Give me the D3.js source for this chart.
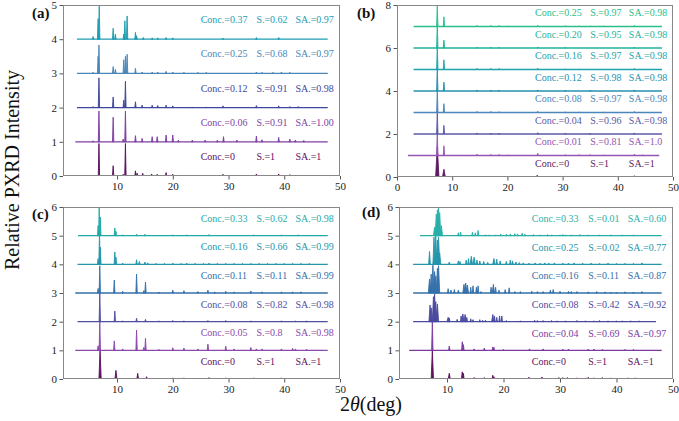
<!DOCTYPE html>
<html><head><meta charset="utf-8">
<script src="https://cdn.jsdelivr.net/npm/d3@7"></script>
<style>body{margin:0;background:#fff}svg{display:block;font-family:"Liberation Serif","Times New Roman",serif}</style>
</head><body>
<svg id="c" width="679" height="421"></svg>
<script>
// ---------------- DATA ----------------
// Panel (a)
const concA = ["0","0.06","0.12","0.25","0.37"];
const selA  = ["1","0.91","0.91","0.68","0.62"];
const saA   = ["1","1.00","0.98","0.97","0.97"];
const spanA = [[3,47.8],[2.5,47.8],[2.8,47.8],[2.8,47.8],[2.8,47.8]];
const peaksA = [
  [[5.7,0.03],[6.75,0.95],[9.3,0.3],[11.1,0.05],[11.5,0.95],[13.3,0.15],[13.6,0.08],[14.6,0.08],[16.2,0.06],[17.2,0.05],[18.8,0.1],[20.0,0.05],[22.5,0.03],[23.7,0.03],[25.7,0.03],[27.2,0.03],[29,0.05],[31.5,0.03],[35,0.06],[37,0.03],[39,0.06],[41,0.04],[42,0.03],[43,0.03]],
  [[5.7,0.03],[6.75,0.9],[9.3,0.72],[11.1,0.08],[11.5,0.9],[13.3,0.18],[14.5,0.1],[16.3,0.15],[17.2,0.15],[18.8,0.2],[20.0,0.2],[21,0.05],[23.5,0.05],[25.8,0.05],[28,0.05],[29.1,0.15],[31.5,0.05],[35,0.17],[36,0.06],[39,0.13],[41,0.08],[42,0.05],[43.5,0.04]],
  [[5.7,0.03],[6.75,0.87],[9.3,0.31],[11.2,0.22],[11.5,0.77],[13.3,0.17],[14.5,0.07],[16.3,0.07],[17.3,0.06],[18.8,0.07],[20,0.05],[23.5,0.02],[26,0.02],[29,0.05],[35,0.06],[39,0.05],[41,0.03],[42.5,0.03]],
  [[5.7,0.03],[6.6,0.5],[6.75,0.83],[9.3,0.2],[9.7,0.12],[11.2,0.4],[11.5,0.5],[11.8,0.56],[13.3,0.15],[14.5,0.04],[16.3,0.04],[17.3,0.04],[18.8,0.06],[20,0.04],[22,0.03],[24.5,0.03],[26,0.03],[35,0.04],[36,0.03],[38,0.03],[39.5,0.04],[41,0.03]],
  [[5.7,0.08],[6.6,0.6],[6.8,1.0],[9.3,0.32],[9.7,0.15],[11.2,0.15],[11.4,0.54],[11.8,0.68],[13.3,0.2],[13.5,0.1],[14.7,0.05],[16.3,0.04],[17.3,0.04],[18.8,0.05],[20,0.04],[29,0.03],[35,0.05],[39,0.05]]
];
const colorsA = ["#5c1060","#7e3fa3","#3d479b","#4a86b8","#1d9cb0"];

// Panel (b)
const concB = ["0","0.01","0.04","0.08","0.12","0.16","0.20","0.25"];
const selB  = ["1","0.81","0.96","0.97","0.98","0.97","0.95","0.97"];
const saB   = ["1","1.0","0.98","0.98","0.98","0.98","0.98","0.98"];
const spanB = [[4.3,47.5],[2.0,47.5],[3,48],[3,48],[3,48],[3,48],[3,48],[3,48]];
const peaksB = [
  [[7.3,1.4,0.3],[8.5,0.36,0.25],[14.5,0.04],[17,0.04],[18.5,0.04],[20,0.03],[25.4,0.08,0.2],[30.5,0.03],[33,0.03],[35,0.03],[37.5,0.03],[43,0.06,0.2],[45,0.03]],
  [[7.3,1.2],[8.5,0.45],[14.5,0.06],[17,0.05],[18.5,0.05],[20,0.03],[25.5,0.1],[30.5,0.04],[33,0.04],[35,0.04],[37.5,0.03],[43,0.06],[44.5,0.03]],
  [[7.3,1.1],[8.5,0.4],[14.5,0.05],[17,0.04],[18.5,0.04],[25.5,0.06],[30.5,0.03],[35,0.03],[43,0.05]],
  [[7.3,1.1],[8.5,0.41],[14.5,0.05],[17,0.05],[18.5,0.04],[25.5,0.06],[30.5,0.03],[33,0.03],[37.5,0.03],[43,0.05]],
  [[7.3,1.1],[8.5,0.41],[14.5,0.05],[17,0.04],[18.5,0.04],[25.5,0.05],[30.5,0.03],[35,0.03],[43,0.05]],
  [[7.3,1.1],[8.5,0.45],[14.5,0.05],[17,0.05],[18.5,0.05],[25.5,0.06],[30.5,0.03],[33,0.03],[43,0.05]],
  [[7.3,1.1],[8.5,0.37],[14.5,0.04],[17,0.04],[18.5,0.04],[25.5,0.05],[30.5,0.03],[43,0.04]],
  [[7.3,1.0],[8.5,0.45],[14.5,0.05],[17,0.05],[18.5,0.05],[20,0.03],[25.5,0.06],[30.5,0.04],[33,0.03],[35,0.03],[37.5,0.03],[43,0.05]]
];
const colorsB = ["#5c1a60","#9356b3","#5b5aa8","#4d86bb","#2690b0","#1ea5aa","#1fb39c","#28c08a"];

// Panel (c)
const concC = ["0","0.05","0.08","0.11","0.16","0.33"];
const selC  = ["1","0.8","0.82","0.11","0.66","0.62"];
const saC   = ["1","0.98","0.98","0.99","0.99","0.98"];
const spanC = [[3,47.8],[2.5,47.8],[2.9,47.8],[2.5,47.8],[2.9,47.8],[3,47.8]];
const peaksC = [
  [[6.95,1.0,0.2],[9.8,0.3,0.18],[13.7,0.2,0.15],[15.3,0.08],[17.5,0.03],[20,0.04],[22,0.04],[24,0.03],[26.5,0.05],[29.5,0.04],[34.5,0.04],[36,0.03],[39.5,0.04],[42,0.03]],
  [[6.6,0.16],[6.9,1.05],[9.5,0.33],[11,0.05],[13.5,0.71],[14.8,0.1],[15.1,0.42],[17.5,0.03],[20,0.09],[22,0.08],[24.5,0.05],[26.3,0.22],[29.5,0.15],[31,0.05],[34,0.1],[35,0.05],[36,0.05],[39.5,0.05],[41.5,0.07],[42,0.05],[44,0.04]],
  [[6.9,1.0],[9.6,0.37],[11,0.03],[13.5,0.12],[15.1,0.08],[17.5,0.03],[20,0.04],[22,0.03],[26.3,0.04],[29.5,0.04],[34,0.03],[39.5,0.03],[42,0.03],[44,0.03]],
  [[6.6,0.16],[6.9,0.95],[9.5,0.45],[11,0.06],[13.5,0.66],[14.8,0.08],[15.1,0.38],[17.5,0.03],[20,0.1],[22,0.08],[24.5,0.05],[26.3,0.1],[27.5,0.04],[29.5,0.06],[31,0.04],[34,0.07],[36,0.04],[39.5,0.04],[41.5,0.04],[43,0.04]],
  [[6.6,0.2],[6.85,1.07],[7.0,0.6],[9.6,0.43],[9.8,0.25],[11,0.04],[13.5,0.16],[14,0.1],[15,0.08],[15.5,0.05],[17,0.03],[18.5,0.03],[20,0.04],[21.5,0.03],[22.5,0.04],[24,0.03],[25.5,0.03],[26.5,0.04],[28,0.03],[29.5,0.03],[31,0.03],[32.5,0.03],[34,0.03],[35.5,0.03],[37,0.03],[38.5,0.03],[40,0.03],[41.5,0.03],[43,0.03],[44.5,0.03]],
  [[6.6,0.35],[6.8,1.0],[7.0,0.65],[9.6,0.27],[9.8,0.15],[11,0.03],[13.5,0.05],[15,0.05],[20,0.03],[22.5,0.03],[26.5,0.04],[34.5,0.03],[39.5,0.03],[42.5,0.03]]
];
const colorsC = ["#5e1060","#8a4aaa","#4f4fa0","#3470aa","#2596aa","#1faaa8"];

// Panel (d)
const concD = ["0","0.04","0.08","0.16","0.25","0.33"];
const selD  = ["1","0.69","0.42","0.11","0.02","0.01"];
const saD   = ["1","0.97","0.92","0.87","0.77","0.60"];
const spanD = [[4,48],[3.3,48],[4,47],[4,48],[4,48],[5.2,48]];
const peaksD = [
  [[7.4,1.0,0.2],[10.4,0.2,0.18],[12.7,0.25,0.15],[12.9,0.2],[14.8,0.05],[16.6,0.05],[18.1,0.13],[18.3,0.08],[24.5,0.06],[26.8,0.07],[29.8,0.05],[30.5,0.05],[31.3,0.05],[33,0.04],[35,0.06],[36,0.04],[37.5,0.05],[39,0.04],[42,0.04],[43.3,0.04],[45,0.03]],
  [[7.4,1.0],[10.4,0.15],[12.7,0.3],[12.9,0.2],[14.8,0.05],[16.6,0.08],[18.1,0.12],[18.3,0.1],[20,0.03],[24.6,0.05],[27,0.05],[30.5,0.04],[31.5,0.04],[35,0.04],[36,0.04],[37.5,0.03],[41.5,0.03],[43,0.03]],
  [[7.0,0.58,0.2],[7.2,0.48,0.2],[7.6,0.87,0.2],[7.8,0.96,0.2],[8.0,0.7,0.2],[8.3,0.62,0.2],[10.2,0.15,0.2],[10.4,0.13],[11.8,0.08],[12.5,0.2],[12.8,0.27,0.2],[13.2,0.25,0.2],[13.5,0.15],[14.2,0.1],[14.6,0.07],[15.8,0.07],[16.3,0.05],[16.8,0.05],[18.1,0.25,0.2],[18.4,0.2],[18.8,0.15],[19.3,0.2],[19.7,0.2],[20.5,0.04],[23,0.03],[25.5,0.05],[26,0.04],[27,0.04],[28.5,0.04],[29.5,0.03],[31,0.03],[33,0.04],[34.5,0.03],[36,0.03],[37,0.04],[38.5,0.03],[40,0.03],[41,0.03],[42.5,0.03],[44,0.03]],
  [[6.9,0.49,0.2],[7.2,0.66,0.2],[7.5,0.97,0.2],[7.8,0.75,0.2],[8.0,0.6,0.2],[8.3,0.86,0.2],[8.5,0.95,0.2],[10.2,0.15],[10.7,0.1],[11.3,0.12],[12.0,0.1],[13.0,0.3,0.2],[13.3,0.35,0.2],[13.6,0.28,0.2],[14.2,0.2],[14.6,0.25],[15.2,0.2],[15.5,0.25],[16.0,0.05],[17.8,0.2],[18.2,0.3,0.2],[18.6,0.2],[19.2,0.1],[20.3,0.12],[21,0.18],[22,0.05],[23,0.05],[25,0.06],[26,0.05],[27,0.05],[28.3,0.1],[28.8,0.12],[30,0.06],[31.5,0.06],[32,0.05],[33,0.05],[35,0.04],[36.5,0.05],[38,0.04],[39,0.03],[40,0.03],[41.5,0.04],[43,0.03],[44.5,0.05]],
  [[6.9,0.45,0.15],[7.7,0.95,0.2],[8.0,1.0,0.2],[8.3,0.85,0.2],[8.5,0.95,0.2],[8.7,0.4,0.2],[10.4,0.08],[12.0,0.12],[12.3,0.1],[13.4,0.15],[13.8,0.2],[14.3,0.28,0.2],[14.8,0.25,0.2],[15.3,0.15],[15.8,0.12],[16.5,0.1],[17.2,0.07],[18.3,0.2,0.2],[18.8,0.18],[19.4,0.12],[20.5,0.1],[21.2,0.15],[21.6,0.12],[22.2,0.08],[22.8,0.06],[23.5,0.05],[24.5,0.04],[25.6,0.05],[26.5,0.04],[27.3,0.05],[28,0.04],[29,0.05],[30.5,0.04],[31.5,0.04],[32.5,0.05],[34,0.04],[35.5,0.04],[37,0.03],[38.5,0.04],[40,0.03],[41.5,0.03],[43,0.03],[44.5,0.05]],
  [[7.8,0.3,0.2],[8.1,0.75,0.2],[8.3,0.9,0.2],[8.5,1.0,0.2],[8.7,0.8,0.2],[9.0,0.35,0.2],[12.0,0.1],[12.4,0.12],[14.5,0.12],[15,0.1],[15.5,0.18],[16.8,0.03],[17.5,0.03],[18.5,0.03],[19.5,0.06],[20.5,0.05],[21.2,0.06],[22,0.07],[22.5,0.06],[23.3,0.08],[23.8,0.05],[25.3,0.04],[26.5,0.03],[27.8,0.04],[28.5,0.03],[30,0.03],[30.5,0.04],[31,0.03],[32,0.03],[33.5,0.04],[35,0.03],[37,0.03],[39,0.03],[41,0.03],[43,0.03]]
];
const colorsD = ["#5e1060","#7a3aa0","#4a4aa0","#3470aa","#2596aa","#27b0a8"];

const xTicksA = [10,20,30,40,50], xTicksB = [0,10,20,30,40,50];
const yTicksA = [0,1,2,3,4,5], yTicksB = [0,2,4,6,8], yTicksC = [0,1,2,3,4,5,6];

// ---------------- LAYOUT ----------------
const FONT = "'Liberation Serif','Times New Roman',serif";
const svg = d3.select("#c");
const panels = [
  {id:"(a)", conc:concA, sel:selA, sa:saA, span:spanA, peaks:peaksA, colors:colorsA,
   L:63, R:340, T:5, B:176, xd:[0.3,50], yd:[0,5], xt:xTicksA, yt:yTicksA, lx:32, ly:18, tdy:0.57},
  {id:"(b)", conc:concB, sel:selB, sa:saB, span:spanB, peaks:peaksB, colors:colorsB,
   L:397, R:673, T:5, B:177, xd:[0,50], yd:[0,8], xt:xTicksB, yt:yTicksB, lx:357, ly:18, tdy:0.64},
  {id:"(c)", conc:concC, sel:selC, sa:saC, span:spanC, peaks:peaksC, colors:colorsC,
   L:63, R:340, T:207, B:379, xd:[0.3,50], yd:[0,6], xt:xTicksA, yt:yTicksC, lx:32, ly:219, tdy:0.61},
  {id:"(d)", conc:concD, sel:selD, sa:saD, span:spanD, peaks:peaksD, colors:colorsD,
   L:399, R:673, T:207, B:379, xd:[1.5,50], yd:[0,6], xt:xTicksA, yt:yTicksC, lx:362, ly:217, tdy:0.6}
];

panels.forEach(p => {
  const x = d3.scaleLinear().domain(p.xd).range([p.L, p.R]);
  const y = d3.scaleLinear().domain(p.yd).range([p.B, p.T]);
  const g = svg.append("g");
  const clipId = "clip" + p.id.replace(/\W/g,"");
  svg.append("clipPath").attr("id", clipId).append("rect")
    .attr("x", p.L).attr("y", p.T).attr("width", p.R - p.L).attr("height", p.B - p.T);
  const plot = g.append("g").attr("clip-path", `url(#${clipId})`);

  p.peaks.forEach((pk, i) => {
    const col = p.colors[i];
    const tg = plot.append("g");
    tg.append("line")
      .attr("x1", x(p.span[i][0])).attr("x2", x(p.span[i][1]))
      .attr("y1", y(i)).attr("y2", y(i))
      .attr("stroke", col).attr("stroke-width", 1.3);
    tg.selectAll("path").data(pk).join("path")
      .attr("d", d => {
        const w = d[2] || 0.12;
        return `M${x(d[0]-w)},${y(i)}L${x(d[0])},${y(i + d[1])}L${x(d[0]+w)},${y(i)}Z`;
      })
      .attr("fill", col).attr("stroke", col).attr("stroke-width", 0.9);
    const ty = y(i + p.tdy);
    const tx = [25, 35, 42];
    const tt = ["Conc.=" + p.conc[i], "S.=" + p.sel[i], "SA.=" + p.sa[i]];
    tt.forEach((t, k) => {
      g.append("text").attr("x", x(tx[k])).attr("y", ty)
        .attr("dominant-baseline", "central").attr("font-family", FONT)
        .attr("font-size", 10).attr("fill", col).text(t);
    });
  });

  const xa = g.append("g").attr("transform", `translate(0,${p.B})`)
    .call(d3.axisBottom(x).tickValues(p.xt).tickSize(3.5).tickPadding(2.5).tickFormat(d3.format("d")));
  const ya = g.append("g").attr("transform", `translate(${p.L},0)`)
    .call(d3.axisLeft(y).tickValues(p.yt).tickSize(3.5).tickPadding(2.5).tickFormat(d3.format("d")));
  [xa, ya].forEach(a => {
    a.attr("font-family", FONT);
    a.select(".domain").remove();
    a.selectAll("line").attr("stroke", "#555");
    a.selectAll("text").attr("font-size", 11).attr("fill", "#222").attr("font-family", FONT);
  });
  g.append("rect").attr("x", p.L + 0.5).attr("y", p.T + 0.5)
    .attr("width", p.R - p.L - 1).attr("height", p.B - p.T - 1)
    .attr("fill", "none").attr("stroke", "#888").attr("stroke-width", 1);

  g.append("text").attr("x", p.lx).attr("y", p.ly).attr("font-family", FONT)
    .attr("font-size", 15).attr("font-weight", "bold").attr("fill", "#111").text(p.id);
});

svg.append("text").attr("transform", "translate(19,170) rotate(-90)")
  .attr("text-anchor", "middle").attr("font-size", 20).attr("fill", "#111").attr("font-family", FONT)
  .text("Relative PXRD Intensity");
const xl = svg.append("text").attr("x", 371).attr("y", 411).attr("font-family", FONT)
  .attr("text-anchor", "middle").attr("font-size", 20).attr("fill", "#111");
xl.append("tspan").text("2");
xl.append("tspan").attr("font-style", "italic").text("θ");
xl.append("tspan").text("(deg)");
</script>
</body></html>
